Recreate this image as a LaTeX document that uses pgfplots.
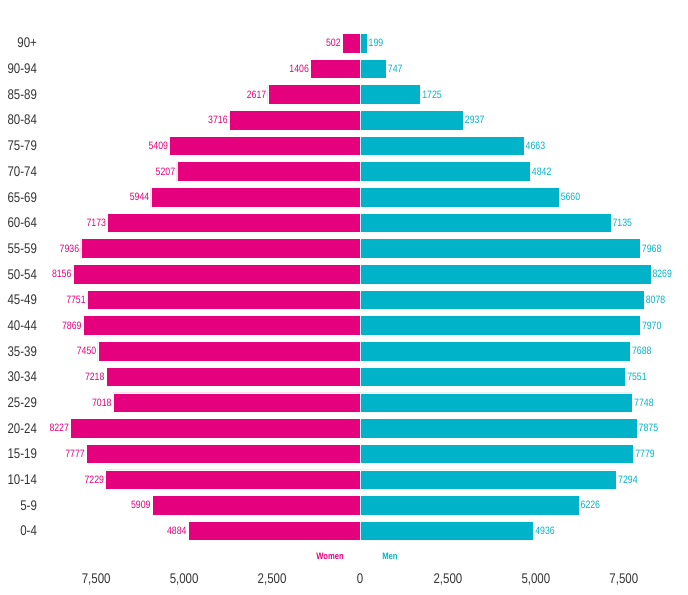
\documentclass[border=0pt]{standalone}
\usepackage{pgfplots}
\pgfplotsset{compat=1.18}
\usepackage{pgfplotstable}
\usepackage{fontspec}
\setmainfont{Liberation Sans}
\newfontfamily\narrow[FakeStretch=0.82]{Liberation Sans}
\definecolor{women}{HTML}{E5007D}
\definecolor{men}{HTML}{00B3C8}
\definecolor{txt}{HTML}{333333}

% idx 0 = 0-4 ... idx 19 = 90+
\pgfplotstableread{
idx women wlab men mlab
0  -4884 4884 4936 4936
1  -5909 5909 6226 6226
2  -7229 7229 7294 7294
3  -7777 7777 7779 7779
4  -8227 8227 7875 7875
5  -7018 7018 7748 7748
6  -7218 7218 7551 7551
7  -7450 7450 7688 7688
8  -7869 7869 7970 7970
9  -7751 7751 8078 8078
10 -8156 8156 8269 8269
11 -7936 7936 7968 7968
12 -7173 7173 7135 7135
13 -5944 5944 5660 5660
14 -5207 5207 4842 4842
15 -5409 5409 4663 4663
16 -3716 3716 2937 2937
17 -2617 2617 1725 1725
18 -1406 1406 747 747
19 -502 502 199 199
}\pyramid

\begin{document}
\begin{tikzpicture}
\useasboundingbox (-40.5pt,-36.45pt) rectangle (475.5pt,409.8pt);
\begin{axis}[
    at={(0pt,0pt)}, anchor=south west,
    scale only axis,
    width=459pt, height=389pt,
    xmin=-8700, xmax=8700,
    ymin=-0.6, ymax=19.6,
    xbar, bar width=0.76, bar shift=0pt,
    clip=false,
    axis line style={draw=none},
    tick style={draw=none},
    xtick={-7500,-5000,-2500,0,2500,5000,7500},
    xticklabels={{7,500},{5,000},{2,500},0,{2,500},{5,000},{7,500}},
    ytick={0,...,19},
    yticklabels={0-4,5-9,10-14,15-19,20-24,25-29,30-34,35-39,40-44,45-49,50-54,55-59,60-64,65-69,70-74,75-79,80-84,85-89,90-94,90+},
    xticklabel style={font=\narrow\fontsize{10.5}{12}\selectfont, text=txt, yshift=-17pt},
    yticklabel style={font=\narrow\fontsize{10.5}{12}\selectfont, text=txt, anchor=east, xshift=-5pt},
    /pgf/number format/assume math mode=true,
    point meta=explicit symbolic,
    nodes near coords,
]
\addplot[fill=women, draw=white, line width=0.5pt,
    every node near coord/.style={anchor=east, inner sep=1pt, text=women, font=\narrow\fontsize{8}{9}\selectfont}]
    table[x=women, y=idx, meta=wlab] {\pyramid};
\addplot[fill=men, draw=white, line width=0.5pt,
    every node near coord/.style={anchor=west, inner sep=1pt, text=men, font=\narrow\fontsize{8}{9}\selectfont}]
    table[x=men, y=idx, meta=mlab] {\pyramid};
\node[text=women, font=\narrow\bfseries\fontsize{7}{8}\selectfont] at (axis cs:-852,-0.97) {Women};
\node[text=men, font=\narrow\bfseries\fontsize{7}{8}\selectfont] at (axis cs:852,-0.97) {Men};
\end{axis}
\end{tikzpicture}
\end{document}
